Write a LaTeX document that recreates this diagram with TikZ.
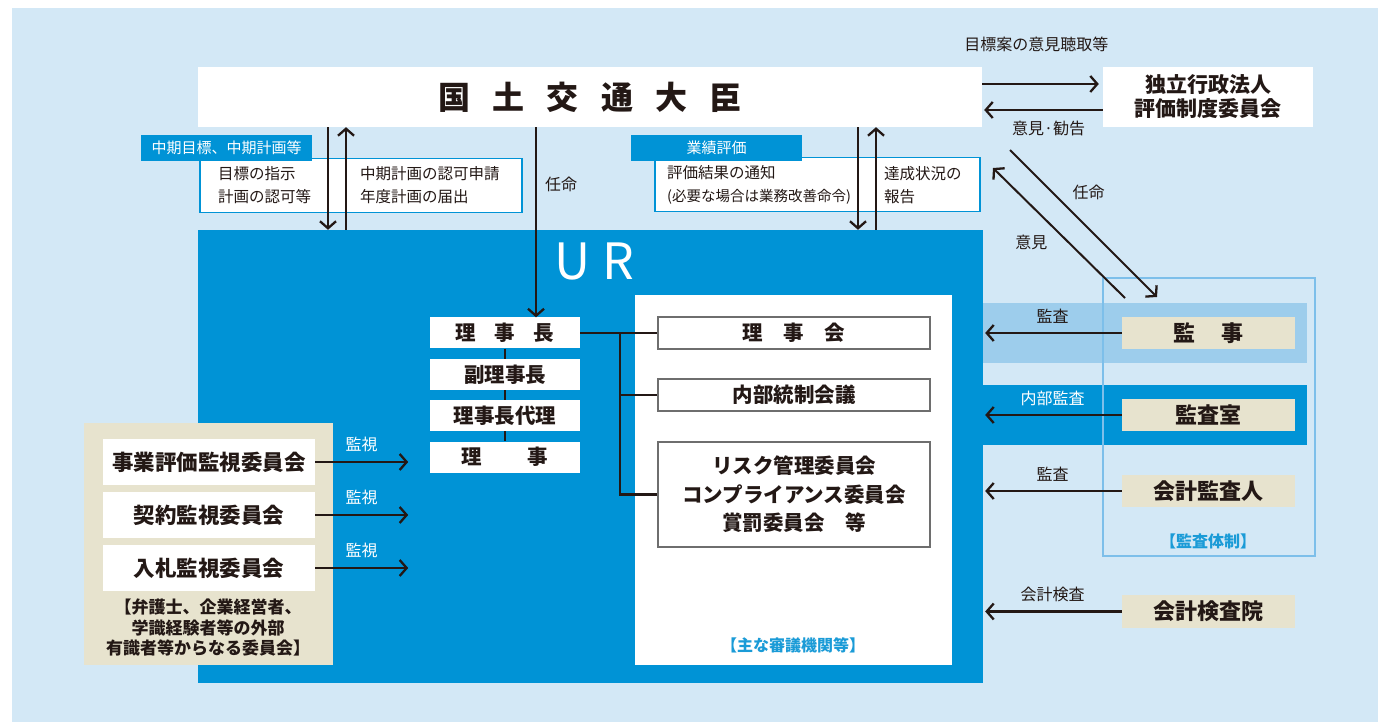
\documentclass[tikz,border=0pt]{standalone}
\usepackage{fontspec}
\setmainfont{Noto Sans CJK JP}
\usetikzlibrary{positioning,arrows.meta}
\definecolor{bgblue}{HTML}{D3E8F6}
\definecolor{urblue}{HTML}{0093D6}
\definecolor{lightband}{HTML}{9DCDEC}
\definecolor{frameblue}{HTML}{7DBFEA}
\definecolor{tan}{HTML}{E7E3CE}
\definecolor{ink}{HTML}{231815}
\definecolor{boxgray}{HTML}{6E6E6E}
\definecolor{textblue}{HTML}{1A9BD7}
\newcommand{\fs}[1]{\fontsize{#1}{#1}\selectfont}

\begin{document}
\begin{tikzpicture}[x=1pt,y=1pt,
    every node/.style={inner sep=0pt,text=ink},
    lbl/.style={font=\fs{16}},
    arr/.style={draw=ink,line width=2.3pt,
      -{Straight Barb[length=7pt,width=16pt,line width=2.3pt]}},
    link/.style={draw=ink,line width=2.3pt},
    tab/.style={fill=urblue,text=white,minimum width=171pt,minimum height=26pt,font=\fs{15}},
    info/.style={draw=urblue,line width=1.6pt,fill=white,minimum height=54pt},
    infotext/.style={align=left,anchor=west,font=\fontsize{15.5}{23}\selectfont},
    officer/.style={fill=white,minimum width=150pt,minimum height=31pt,font=\bfseries\fs{20.5}},
    council/.style={draw=boxgray,line width=1.2pt,fill=white,minimum width=272pt,minimum height=32pt,
      font=\bfseries\fs{20.5}},
    committee/.style={fill=white,minimum width=212pt,minimum height=46pt,font=\bfseries\fs{21.5}},
    auditbox/.style={fill=tan,minimum width=173pt,minimum height=32pt,font=\bfseries\fs{22}}]

\useasboundingbox (0,0) rectangle (1389,725);
\fill[bgblue] (12,3) rectangle (1378,717);

% top row
\node[fill=white,minimum width=784pt,minimum height=60pt,font=\bfseries\fs{32}] (minister) at (590,628)
  {国\hspace{0.7em}土\hspace{0.7em}交\hspace{0.7em}通\hspace{0.7em}大\hspace{0.7em}臣};
\node[fill=white,minimum width=210pt,minimum height=60pt,align=center,font=\bfseries\fontsize{21}{24}\selectfont] (iaa)
  at (1208,628) {独立行政法人\\評価制度委員会};

% plan and evaluation boxes
\node[info,minimum width=322pt] (planbox) at (361,539.5) {};
\node[tab] (plantab) at (226.5,577) {中期目標、中期計画等};
\node[infotext] (plandown) at (218,539.5) {目標の指示\\計画の認可等};
\node[infotext] (planup) at (360,539.5) {中期計画の認可申請\\年度計画の届出};
\node[info,minimum width=325pt] (evalbox) at (817.5,540.5) {};
\node[tab] (evaltab) at (716.5,577) {業績評価};
\node[infotext] (evaldown) at (667,540) {評価結果の通知\\{\fs{14.5}(必要な場合は業務改善命令)}};
\node[infotext] (evalup) at (884,540) {達成状況の\\報告};

% UR
\node[fill=urblue,minimum width=785pt,minimum height=453pt] (ur) at (590.5,268.5) {};
\node[text=white,font=\fs{50}] (urname) at (594,463) {U\hspace{12pt}R};
\node[fill=white,minimum width=317pt,minimum height=370pt] (panel) at (793.5,245) {};
\node[officer] (chief) at (505,392) {理\hspace{0.9em}事\hspace{0.9em}長};
\node[officer,below=10pt of chief] (vice) {副理事長};
\node[officer,below=10pt of vice] (deputy) {理事長代理};
\node[officer,below=10pt of deputy] (director) {理\hspace{2.2em}事};
\node[council] (board) at (794,392) {理\hspace{1em}事\hspace{1em}会};
\node[council] (control) at (794,330) {内部統制会議};
\node[council,minimum height=105pt,align=center,font=\bfseries\fontsize{20.5}{28.5}\selectfont] (risk) at (794,230.5)
  {リスク管理委員会\\コンプライアンス委員会\\賞罰委員会\hspace{1em}等};
\node[text=textblue,font=\bfseries\fs{16}] (panelname) at (793,80) {【主な審議機関等】};

% outside committees
\node[fill=tan,minimum width=249pt,minimum height=242pt] (outer) at (208.5,181) {};
\node[committee] (evalcom) at (209,263) {事業評価監視委員会};
\node[committee] (contractcom) at (209,210) {契約監視委員会};
\node[committee] (bidcom) at (209,157) {入札監視委員会};
\node[align=center,font=\bfseries\fontsize{17}{20.5}\selectfont] (outernote) at (208,97)
  {【弁護士、企業経営者、\\学識経験者等の外部\\有識者等からなる委員会】};

% audit side
\node[fill=lightband,minimum width=324pt,minimum height=60pt] (auditband) at (1145,392) {};
\node[fill=urblue,minimum width=324pt,minimum height=60pt] (iaband) at (1145,310) {};
\node[draw=frameblue,line width=2pt,minimum width=212pt,minimum height=278pt] (auditframe) at (1209,308) {};
\node[auditbox] (auditor) at (1208.5,392) {監\hspace{1.2em}事};
\node[auditbox] (iaoffice) at (1208.5,310) {監査室};
\node[auditbox] (accauditor) at (1208.5,234) {会計監査人};
\node[auditbox,minimum height=33pt] (boa) at (1208.5,113.5) {会計検査院};
\node[text=textblue,font=\bfseries\fs{16}] (framename) at (1208,184) {【監査体制】};

% connectors
\coordinate (down1) at (328,0);
\coordinate (up1) at (346,0);
\coordinate (appoint) at (536,0);
\coordinate (down2) at (858,0);
\coordinate (up2) at (876,0);
\coordinate (branch) at (620,392);

\draw[arr,shorten >=4pt] ([yshift=13pt]minister.east) -- ([yshift=13pt]iaa.west)
  node[lbl,pos=0.45,above=31pt] {目標案の意見聴取等};
\draw[arr,shorten >=2pt] ([yshift=-13pt]iaa.west) -- ([yshift=-13pt]minister.east)
  node[lbl,pos=0.45,below=10pt] {意見·勧告};
\draw[arr] (minister.south -| down1) -- (ur.north -| down1);
\draw[arr] (ur.north -| up1) -- (minister.south -| up1);
\draw[arr] (minister.south -| appoint) -- (chief.north -| appoint)
  node[lbl,pos=0.3,right=8pt] {任命};
\draw[arr] (minister.south -| down2) -- (ur.north -| down2);
\draw[arr] (ur.north -| up2) -- (minister.south -| up2);

\draw[link] (chief.south) -- (vice.north) (vice.south) -- (deputy.north) (deputy.south) -- (director.north);
\draw[link] (chief.east) -- (board.west);
\draw[link] (branch) |- (control.west);
\draw[link] (branch) |- (risk.west);

\foreach \c in {evalcom,contractcom,bidcom}
  \draw[arr] (\c.east) -- ++(93,0) node[midway,above=9pt,text=white,font=\fs{16}] {監視};

\draw[arr,shorten >=2pt] (auditor.west) -- (ur.east |- auditor.west) node[lbl,midway,above=8pt] {監査};
\draw[arr,shorten >=2pt] (iaoffice.west) -- (ur.east |- iaoffice.west)
  node[midway,above=8pt,text=white,font=\fs{16}] {内部監査};
\draw[arr,shorten >=2pt] (accauditor.west) -- (ur.east |- accauditor.west) node[lbl,midway,above=8pt] {監査};
\draw[arr,shorten >=2pt] (boa.west) -- (ur.east |- boa.west) node[lbl,midway,above=8pt] {会計検査};

\coordinate (apptop) at (1010,575);
\coordinate (appbot) at (1157,428);
\coordinate (opbot) at (1125,427);
\coordinate (optop) at (993,557);
\draw[arr,line width=2pt] (apptop) -- (appbot) node[lbl,pos=0.29,right=19pt] {任命};
\draw[arr,line width=2pt] (opbot) -- (optop) node[lbl,pos=0.43,left=20pt] {意見};
\end{tikzpicture}
\end{document}
